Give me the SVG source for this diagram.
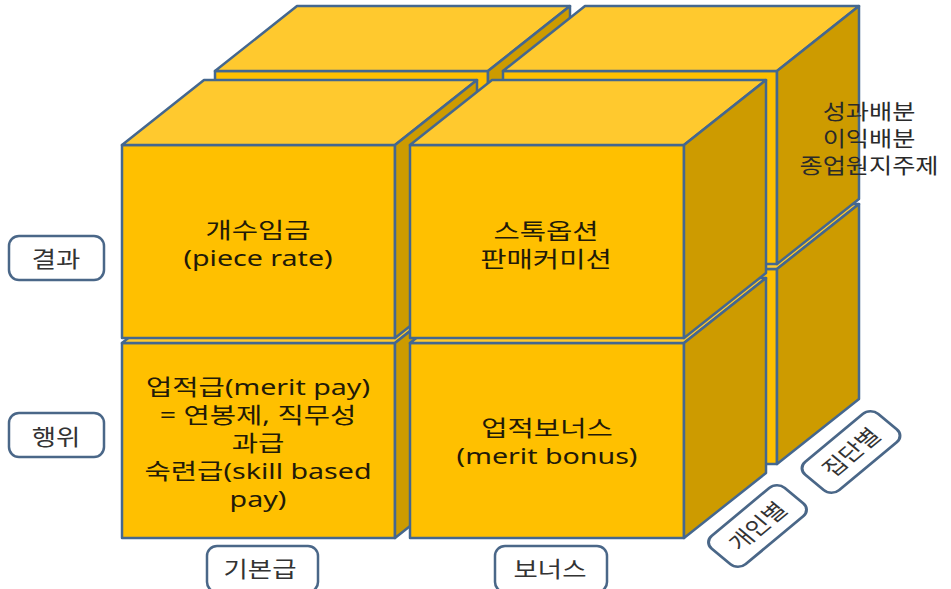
<svg xmlns="http://www.w3.org/2000/svg" width="951" height="589" viewBox="0 0 951 589">
<style>
.f{fill:#FFC000;stroke:#44678F;stroke-width:2.5;stroke-linejoin:round}
.t{fill:#FFC92E;stroke:#44678F;stroke-width:2.5;stroke-linejoin:round}
.s{fill:#CD9B00;stroke:#44678F;stroke-width:2.5;stroke-linejoin:round}
.lb{fill:#FFFFFF;stroke:#4A6788;stroke-width:2.5}
.tx{font-family:"Noto Sans","Noto Sans CJK KR",sans-serif;font-size:22px;fill:#221A08;text-anchor:middle}
.lt{font-family:"Noto Sans","Noto Sans CJK KR",sans-serif;font-size:22px;fill:#333333;text-anchor:middle}
.rt{font-family:"Noto Sans","Noto Sans CJK KR",sans-serif;font-size:21px;fill:#2A2A2A;text-anchor:middle}
</style>
<rect width="951" height="589" fill="#FFFFFF"/>
<!-- back layer -->
<g id="cube-back-bottom-left">
<rect class="f" x="215" y="269" width="273" height="195"/>
<polygon class="t" points="215,269 488,269 570,204 297,204"/>
<polygon class="s" points="488,269 570,204 570,399 488,464"/>
</g>
<g id="cube-back-top-left">
<rect class="f" x="215" y="71" width="273" height="193"/>
<polygon class="t" points="215,71 488,71 570,6 297,6"/>
<polygon class="s" points="488,71 570,6 570,199 488,264"/>
</g>
<g id="cube-back-bottom-right">
<rect class="f" x="503" y="269" width="274" height="195"/>
<polygon class="t" points="503,269 777,269 859,204 585,204"/>
<polygon class="s" points="777,269 859,204 859,399 777,464"/>
</g>
<g id="cube-back-top-right">
<rect class="f" x="503" y="71" width="274" height="193"/>
<polygon class="t" points="503,71 777,71 859,6 585,6"/>
<polygon class="s" points="777,71 859,6 859,199 777,264"/>
</g>
<!-- front layer -->
<g id="cube-front-bottom-left">
<rect class="f" x="122" y="343" width="273" height="195"/>
<polygon class="t" points="122,343 395,343 477,278 204,278"/>
<polygon class="s" points="395,343 477,278 477,473 395,538"/>
<text class="tx" transform="matrix(1.3 0 0 1 258 0)"><tspan x="0" y="395">업적급(merit pay)</tspan><tspan x="0" y="423">= 연봉제, 직무성</tspan><tspan x="0" y="451">과급</tspan><tspan x="0" y="479">숙련급(skill based</tspan><tspan x="0" y="507">pay)</tspan></text>
</g>
<g id="cube-front-top-left">
<rect class="f" x="122" y="145" width="273" height="193"/>
<polygon class="t" points="122,145 395,145 477,80 204,80"/>
<polygon class="s" points="395,145 477,80 477,273 395,338"/>
<text class="tx" transform="matrix(1.3 0 0 1 258 0)"><tspan x="0" y="238">개수임금</tspan><tspan x="0" y="266">(piece rate)</tspan></text>
</g>
<g id="cube-front-bottom-right">
<rect class="f" x="410" y="343" width="274" height="195"/>
<polygon class="t" points="410,343 684,343 766,278 492,278"/>
<polygon class="s" points="684,343 766,278 766,473 684,538"/>
<text class="tx" transform="matrix(1.3 0 0 1 547 0)"><tspan x="0" y="436">업적보너스</tspan><tspan x="0" y="464">(merit bonus)</tspan></text>
</g>
<g id="cube-front-top-right">
<rect class="f" x="410" y="145" width="274" height="193"/>
<polygon class="t" points="410,145 684,145 766,80 492,80"/>
<polygon class="s" points="684,145 766,80 766,273 684,338"/>
<text class="tx" transform="matrix(1.3 0 0 1 546 0)"><tspan x="0" y="239">스톡옵션</tspan><tspan x="0" y="267">판매커미션</tspan></text>
</g>
<g id="group-text">
<text class="rt" transform="matrix(1.2 0 0 1 869 0)"><tspan x="0" y="119">성과배분</tspan><tspan x="0" y="146">이익배분</tspan><tspan x="0" y="173">종업원지주제</tspan></text>
</g>
<!-- labels -->
<g id="label-result">
<rect class="lb" x="9" y="236" width="95" height="44" rx="10"/>
<text class="lt" transform="matrix(1.2 0 0 1 56 267)">결과</text>
</g>
<g id="label-behavior">
<rect class="lb" x="9" y="413" width="95" height="44" rx="10"/>
<text class="lt" transform="matrix(1.2 0 0 1 56 445)">행위</text>
</g>
<g id="label-base">
<rect class="lb" x="207" y="546" width="111" height="46" rx="10"/>
<text class="lt" transform="matrix(1.2 0 0 1 260 577)">기본급</text>
</g>
<g id="label-bonus">
<rect class="lb" x="495" y="546" width="112" height="46" rx="10"/>
<text class="lt" transform="matrix(1.2 0 0 1 550 577)">보너스</text>
</g>
<g id="label-individual" transform="translate(757.5 526) scale(1.2 1) rotate(-45)">
<rect class="lb" x="-43" y="-20" width="86" height="40" rx="9"/>
<text class="lt" x="0" y="8" style="font-size:21px">개인별</text>
</g>
<g id="label-group" transform="translate(851 452) scale(1.2 1) rotate(-45)">
<rect class="lb" x="-43" y="-20" width="86" height="40" rx="9"/>
<text class="lt" x="0" y="8" style="font-size:21px">집단별</text>
</g>
<g id="connectors"/>
</svg>
